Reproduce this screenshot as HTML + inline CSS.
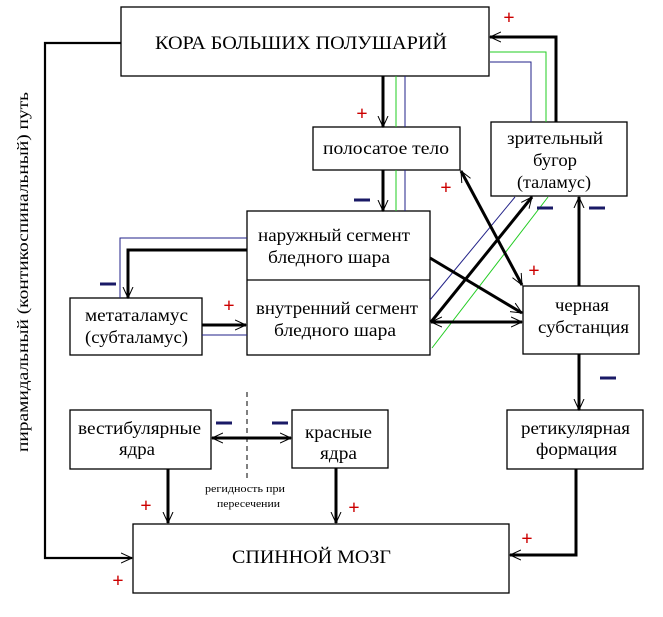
<!DOCTYPE html>
<html><head><meta charset="utf-8"><style>
html,body{margin:0;padding:0;background:#fff;}
svg{display:block;}
text{font-family:"Liberation Serif",serif;fill:#000;}
</style></head><body>
<svg width="663" height="617" viewBox="0 0 663 617" xmlns="http://www.w3.org/2000/svg">
<defs>
<marker id="a" viewBox="0 0 12 12" refX="11" refY="6" markerWidth="12" markerHeight="12" markerUnits="userSpaceOnUse" orient="auto-start-reverse">
<polyline points="0,1 11,6 0,11" fill="none" stroke="#000" stroke-width="1"/>
</marker>
</defs>
<g fill="#fff" stroke="#000" stroke-width="1.3">
<rect x="121" y="7" width="368" height="69"/>
<rect x="313" y="127" width="147" height="43"/>
<rect x="491" y="122" width="136" height="74"/>
<rect x="247" y="211" width="183" height="144"/>
<line x1="247" y1="280" x2="430" y2="280"/>
<rect x="70" y="298" width="132" height="57"/>
<rect x="523" y="286" width="116" height="68"/>
<rect x="70" y="410" width="141" height="59"/>
<rect x="292" y="410" width="96" height="58"/>
<rect x="507" y="410" width="136" height="59"/>
<rect x="133" y="524" width="376" height="69"/>
</g>
<g fill="none" stroke-width="1">
<polyline points="490,52 546,52 546,122" stroke="#2c2"/>
<polyline points="490,62 531,62 531,122" stroke="#228"/>
<line x1="396" y1="76" x2="396" y2="127" stroke="#2c2"/>
<line x1="405" y1="76" x2="405" y2="127" stroke="#228"/>
<line x1="396" y1="170" x2="396" y2="211" stroke="#2c2"/>
<line x1="405" y1="170" x2="405" y2="211" stroke="#228"/>
<line x1="430" y1="300" x2="515" y2="197" stroke="#228"/>
<line x1="432" y1="348" x2="548" y2="197" stroke="#2c2"/>
<polyline points="247,238 120,238 120,298" stroke="#228"/>
<line x1="202" y1="335" x2="247" y2="335" stroke="#228"/>
</g>
<g fill="none" stroke="#000" stroke-width="3">
<polyline points="556,122 556,37 490,37" marker-end="url(#a)"/>
<line x1="383" y1="76" x2="383" y2="127" marker-end="url(#a)"/>
<line x1="383" y1="170" x2="383" y2="211" marker-end="url(#a)"/>
<line x1="461" y1="171" x2="522" y2="285" marker-start="url(#a)" marker-end="url(#a)"/>
<line x1="430" y1="258" x2="522" y2="313" marker-end="url(#a)"/>
<line x1="431" y1="322" x2="522" y2="322" marker-start="url(#a)" marker-end="url(#a)"/>
<line x1="431" y1="322" x2="532" y2="197" marker-end="url(#a)"/>
<line x1="579" y1="286" x2="579" y2="197" marker-end="url(#a)"/>
<line x1="579" y1="354" x2="579" y2="410" marker-end="url(#a)"/>
<polyline points="576,469 576,555 510,555" marker-end="url(#a)"/>
<polyline points="247,250 128,250 128,298" marker-end="url(#a)"/>
<line x1="202" y1="325" x2="246" y2="325" marker-end="url(#a)"/>
<line x1="212" y1="438" x2="291" y2="438" marker-start="url(#a)" marker-end="url(#a)"/>
<line x1="168" y1="469" x2="168" y2="523" marker-end="url(#a)"/>
<line x1="336" y1="468" x2="336" y2="523" marker-end="url(#a)"/>
</g>
<polyline points="121,43 45,43 45,558 132,558" fill="none" stroke="#000" stroke-width="2.2" marker-end="url(#a)"/>
<line x1="247" y1="392" x2="247" y2="478" stroke="#000" stroke-width="1" stroke-dasharray="5,4"/>
<g font-size="18">
<text x="155" y="49" font-size="19" textLength="292" lengthAdjust="spacingAndGlyphs">КОРА  БОЛЬШИХ  ПОЛУШАРИЙ</text>
<text x="323" y="154" textLength="126" lengthAdjust="spacingAndGlyphs">полосатое тело</text>
<text x="507" y="144" textLength="96" lengthAdjust="spacingAndGlyphs">зрительный</text>
<text x="533" y="166" textLength="44" lengthAdjust="spacingAndGlyphs">бугор</text>
<text x="517" y="188" textLength="74" lengthAdjust="spacingAndGlyphs">(таламус)</text>
<text x="258" y="241" textLength="152" lengthAdjust="spacingAndGlyphs">наружный сегмент</text>
<text x="268" y="263" textLength="122" lengthAdjust="spacingAndGlyphs">бледного шара</text>
<text x="256" y="314" textLength="162" lengthAdjust="spacingAndGlyphs">внутренний сегмент</text>
<text x="274" y="336" textLength="122" lengthAdjust="spacingAndGlyphs">бледного шара</text>
<text x="85" y="321" textLength="103" lengthAdjust="spacingAndGlyphs">метаталамус</text>
<text x="85" y="343" textLength="103" lengthAdjust="spacingAndGlyphs">(субталамус)</text>
<text x="555" y="311" textLength="54" lengthAdjust="spacingAndGlyphs">черная</text>
<text x="538" y="333" textLength="91" lengthAdjust="spacingAndGlyphs">субстанция</text>
<text x="78" y="434" textLength="123" lengthAdjust="spacingAndGlyphs">вестибулярные</text>
<text x="119" y="455" textLength="36" lengthAdjust="spacingAndGlyphs">ядра</text>
<text x="305" y="438" textLength="67" lengthAdjust="spacingAndGlyphs">красные</text>
<text x="320" y="459" textLength="37" lengthAdjust="spacingAndGlyphs">ядра</text>
<text x="521" y="434" textLength="109" lengthAdjust="spacingAndGlyphs">ретикулярная</text>
<text x="536" y="455" textLength="81" lengthAdjust="spacingAndGlyphs">формация</text>
<text x="232" y="563" font-size="19" textLength="159" lengthAdjust="spacingAndGlyphs">СПИННОЙ   МОЗГ</text>
<text x="205" y="492" font-size="11" textLength="80" lengthAdjust="spacingAndGlyphs">регидность при</text>
<text x="217" y="507" font-size="11" textLength="63" lengthAdjust="spacingAndGlyphs">пересечении</text>
</g>
<text transform="translate(28,272) rotate(-90)" text-anchor="middle" font-size="16" textLength="360" lengthAdjust="spacingAndGlyphs">пирамидальный (контикоспинальный)  путь</text>
<g font-family="Liberation Sans,sans-serif" font-size="20" font-weight="bold" text-anchor="middle">
<text x="509" y="24" style="fill:#c00">+</text>
<text x="362" y="120" style="fill:#c00">+</text>
<text x="446" y="194" style="fill:#c00">+</text>
<text x="534" y="277" style="fill:#c00">+</text>
<text x="229" y="312" style="fill:#c00">+</text>
<text x="146" y="512" style="fill:#c00">+</text>
<text x="354" y="514" style="fill:#c00">+</text>
<text x="118" y="587" style="fill:#c00">+</text>
<text x="527" y="545" style="fill:#c00">+</text>
</g>
<g stroke="#1a1a66" stroke-width="3">
<line x1="354" y1="200" x2="370" y2="200"/>
<line x1="100" y1="284" x2="116" y2="284"/>
<line x1="216" y1="423" x2="232" y2="423"/>
<line x1="272" y1="423" x2="288" y2="423"/>
<line x1="537" y1="208" x2="553" y2="208"/>
<line x1="589" y1="208" x2="605" y2="208"/>
<line x1="600" y1="378" x2="616" y2="378"/>
</g>
</svg>
</body></html>
